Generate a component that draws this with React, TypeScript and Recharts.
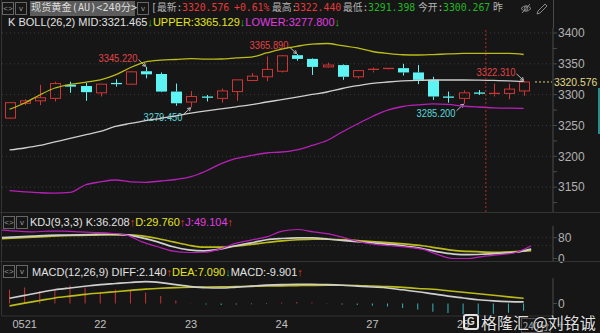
import React from "react"
import {
  ComposedChart,
  Bar,
  Line,
  XAxis,
  YAxis,
  CartesianGrid,
  ReferenceLine,
  Cell
} from "recharts"

// 240-minute candles, spot gold
const opens = [3262, 3286, 3290, 3294, 3316, 3314, 3303, 3318, 3317, 3338, 3333.5, 3305, 3288, 3296, 3294, 3305, 3323, 3329, 3338, 3364, 3358, 3345, 3348, 3329, 3339, 3341, 3343, 3336, 3324, 3296, 3294, 3302.5, 3300.267, 3302, 3306]
const highs = [3288, 3292.5, 3316, 3321, 3321, 3319, 3317.5, 3325, 3338, 3345.22, 3336, 3318, 3306, 3299.5, 3310, 3324.5, 3335, 3362, 3364.5, 3365.89, 3359, 3352, 3349, 3339.5, 3344, 3343, 3350, 3348, 3329, 3305, 3307, 3307.5, 3318, 3318, 3322.31]
const lows = [3261, 3283, 3283, 3289, 3303, 3290, 3297, 3313, 3316, 3326.5, 3304, 3282, 3279.45, 3289, 3287, 3290, 3322, 3322, 3336, 3355, 3332, 3344, 3324, 3326, 3336, 3340.5, 3331, 3317, 3291.4, 3287, 3285.2, 3299.5, 3297, 3292.5, 3298]
const closes = [3287, 3290, 3295, 3318, 3313, 3304, 3317, 3317, 3337, 3333, 3305, 3286, 3297, 3295.5, 3306, 3324, 3330, 3341, 3363, 3358, 3345, 3348, 3329, 3339, 3341, 3342.5, 3336, 3324, 3297, 3295.5, 3303, 3302, 3302, 3309, 3320.576]

// BOLL(26,2)
const upperBand = [3276.3, 3286.5, 3299.5, 3310.8, 3316.5, 3320, 3323.8, 3332, 3344, 3353, 3355.9, 3357, 3358.3, 3357.5, 3357.8, 3359.5, 3361, 3367.6, 3374, 3378.4, 3382, 3383, 3379.4, 3375.7, 3370, 3366.8, 3364.7, 3364.3, 3365, 3366, 3366.8, 3367, 3367, 3366.8, 3365.129]
const midBand = [3210.3, 3213.5, 3217.6, 3223.3, 3229, 3234.6, 3240.3, 3248.5, 3253.3, 3257.8, 3261.7, 3265.7, 3270, 3273.8, 3277, 3280.3, 3283.7, 3288.1, 3291.8, 3295.9, 3300.3, 3304.3, 3310, 3314.5, 3318.4, 3320.5, 3322.2, 3323.3, 3323.8, 3323.8, 3323.8, 3323.5, 3323, 3322.5, 3321.465]
const lowerBand = [3144.3, 3142.5, 3141, 3140.2, 3141.5, 3153.5, 3158.4, 3161.6, 3158.7, 3157.9, 3160, 3162.4, 3167, 3176.2, 3188.2, 3196.5, 3201.4, 3205.4, 3207, 3210.6, 3217.6, 3225.7, 3239.5, 3252.4, 3264.6, 3275.1, 3280.8, 3283.3, 3285, 3284.1, 3281.6, 3280, 3278.7, 3278, 3277.8]

// KDJ(9,3,3)
const kVals = [80, 83, 86, 89, 90, 91, 92.5, 94, 91, 79.5, 64, 45, 33, 29.5, 36, 49, 60, 72, 77, 79.5, 79.5, 74, 69, 64, 59, 54, 47, 38.5, 25.6, 17, 15, 17, 20, 24, 36.208]
const dVals = [76, 79, 82, 85, 87.5, 89, 90, 91, 91, 87, 77, 64, 51, 43.6, 43.6, 47, 54, 61.5, 68, 72, 74, 74, 72, 68, 64, 60, 55, 49, 40, 31, 27, 24.5, 23.5, 26.5, 29.76]
const jVals = [109, 105, 102.5, 105, 105, 102.5, 100, 97, 90, 64, 45, 28, 23, 24, 36, 58, 70.5, 83, 105, 111.5, 102.5, 95, 79.5, 64, 54, 49, 43.6, 36, 15, 0, 0, 9, 15, 23, 49.104]

// MACD(12,26,9)
const diffVals = [7.1, 11, 15, 18.5, 21, 23.3, 25.5, 27, 28.5, 29.6, 28.3, 25.5, 22.9, 21.3, 21, 22.2, 23.5, 24.8, 25.6, 26, 26, 25.5, 24.7, 23.5, 22.3, 21, 18.5, 16, 13, 10, 7.5, 5, 3.5, 2.5, 2.14]
const deaVals = [-3.2, 0.5, 4, 7.5, 10, 12.3, 14.2, 16, 17.8, 19.4, 20.6, 21.5, 22, 22.3, 22.6, 22.9, 23.2, 23.6, 23.9, 24.2, 24.5, 24.7, 24.7, 24.4, 23.6, 22.9, 21.8, 20.4, 19.3, 17.3, 15.3, 13.2, 11.1, 9, 7.09]
const histVals = [18.5, 21.5, 17, 20, 24.5, 21.5, 16, 19, 18, 15, 10, 4, 0.3, -1.5, -2, -1.5, -1, -0.5, 1.5, 2, 1.5, -0.3, -1.5, -2, -3, -4, -6, -8, -11, -13, -14.5, -15, -14, -12.5, -9.901]

const priceTicks = [3125, 3150, 3175, 3200, 3225, 3250, 3275, 3300, 3325, 3350, 3375, 3400]
const gridPrices = [3150, 3200, 3250, 3300, 3350, 3400]
const kdjTicks = [0, 80]
const kdjGrid = [50, 80]
const macdTicks = [0]
const dateTickIdx = [1, 6, 12, 18, 24, 30]
const dateLabels = ["0521", "22", "23", "24", "27", "28"]
const markIdx = [9, 12, 19, 30, 34]
const markSide = ["high", "low", "high", "low", "high"]
const lastPrice = 3320.576
const todayIdx = 32

const BG = "#161616"
const RED = "#cf3535"
const CYAN = "#5ef4f4"
const WHITE = "#cfcfcf"
const YEL = "#bcbc18"
const MAG = "#b820b8"
const AXIS = "#4a4a4a"
const TICK = "#b0b0b0"
const SANS = '"Liberation Sans", Arial, sans-serif'
const MONO = '"DejaVu Sans Mono", "Noto Sans CJK SC", monospace'
const CJK = '"Noto Sans CJK SC", sans-serif'
const PAD_R = 21.8

const candles = opens.map((o, i) => ({
  idx: i,
  open: o,
  high: highs[i],
  low: lows[i],
  close: closes[i],
  range: [lows[i], highs[i]],
  upper: upperBand[i],
  mid: midBand[i],
  lower: lowerBand[i]
}))
const kdj = kVals.map((k, i) => ({ idx: i, k, d: dVals[i], j: jVals[i] }))
const macd = diffVals.map((v, i) => ({ idx: i, diff: v, dea: deaVals[i], hist: histVals[i] }))

function Arrow({ x1, y1, x2, y2 }: { x1: number, y1: number, x2: number, y2: number }) {
  const a = Math.atan2(y2 - y1, x2 - x1)
  const s = 3.5
  const p1 = `${x2 - s * Math.cos(a - 0.55)},${y2 - s * Math.sin(a - 0.55)}`
  const p2 = `${x2 - s * Math.cos(a + 0.55)},${y2 - s * Math.sin(a + 0.55)}`
  return (
    <g stroke="#bdbdbd" strokeWidth={1} fill="none">
      <line x1={x1} y1={y1} x2={x2} y2={y2} />
      <polyline points={`${p1} ${x2},${y2} ${p2}`} />
    </g>
  )
}

function Candle(props: any) {
  const { x, y, width, height, payload } = props
  if (!payload) return null
  const { open, close, high, low, idx } = payload
  const cx = Math.round(x + width / 2) + 0.5
  const span = high - low || 1
  const py = (p: number) => y + ((high - p) / span) * height
  const up = close >= open
  const color = up ? RED : CYAN
  const top = py(Math.max(open, close))
  const bot = py(Math.min(open, close))
  const bodyH = bot - top
  const yLow = y + height
  const mi = markIdx.indexOf(idx)
  let body
  if (bodyH < 1.5) {
    body = <line x1={cx - 5.5} x2={cx + 5.5} y1={top} y2={top} stroke={color} strokeWidth={1.3} />
  } else if (up) {
    body = <rect x={cx - 5} y={top} width={10} height={bodyH} fill="none" stroke={color} strokeWidth={1} />
  } else {
    body = <rect x={cx - 5.5} y={top} width={11} height={bodyH} fill={color} />
  }
  return (
    <g>
      <line x1={cx} x2={cx} y1={y} y2={top} stroke={color} />
      <line x1={cx} x2={cx} y1={bot} y2={yLow} stroke={color} />
      {body}
      {mi >= 0 && markSide[mi] === "high" && (
        <g>
          <text x={cx - 9} y={y - 5} textAnchor="end" fill="#e04444" fontSize={11} fontFamily={SANS}
            textLength={39} lengthAdjust="spacingAndGlyphs">{high.toFixed(3)}</text>
          <Arrow x1={cx - 8} y1={y - 7} x2={cx - 1} y2={y - 0.5} />
        </g>
      )}
      {mi >= 0 && markSide[mi] === "low" && (
        <g>
          <text x={cx - 9} y={yLow + 13.5} textAnchor="end" fill="#5ad8dc" fontSize={11} fontFamily={SANS}
            textLength={39} lengthAdjust="spacingAndGlyphs">{low.toFixed(3)}</text>
          <Arrow x1={cx - 8} y1={yLow + 7} x2={cx - 1} y2={yLow + 0.5} />
        </g>
      )}
    </g>
  )
}

function PriceTag(props: any) {
  const { x1, x2, y1 } = props
  const xr = Math.max(x1, x2)
  return (
    <g>
      <line x1={xr - 18} x2={xr - 1} y1={y1} y2={y1} stroke="#d8cf7a" strokeDasharray="2 2" />
      <text x={xr + 1} y={y1 + 4} fill="#e2d98c" fontSize={10.4} fontFamily={SANS}>{lastPrice.toFixed(3)}</text>
    </g>
  )
}

const IconBox = ({ x, y, label }: { x: number, y: number, label: string }) => (
  <div style={{
    position: "absolute", left: x, top: y, width: 10, height: 11, border: "1px solid #666",
    color: "#999", fontSize: 8, lineHeight: "11px", textAlign: "center", fontFamily: SANS
  }}>{label}</div>
)

const T = ({ x, y, c, f = MONO, s = 9.8, children }: any) => (
  <span style={{ position: "absolute", left: x, top: y, color: c, fontFamily: f, fontSize: s, lineHeight: "14px", whiteSpace: "pre" }}>{children}</span>
)

const axisTick = { fill: TICK, fontSize: 12, fontFamily: SANS }

export default function App() {
  const G = "#b4b4b4"
  const HR = "#e63a3a"
  const HG = "#22b822"
  return (
    <div style={{ position: "fixed", left: 0, top: 0, width: 600, height: 333, background: BG, overflow: "hidden" }}>
      {/* main: BOLL + candles */}
      <div style={{ position: "absolute", left: 0, top: 20 }}>
        <ComposedChart width={600} height={192} data={candles} margin={{ top: 8, right: 0, bottom: 0, left: 2 }}>
          <CartesianGrid vertical={false} horizontalValues={gridPrices} stroke="#3a3a3a" strokeDasharray="1 3" />
          <XAxis dataKey="idx" hide padding={{ left: 0, right: PAD_R }} />
          <YAxis orientation="right" width={47} domain={[3109.7, 3408.1]} ticks={priceTicks} interval={0}
            tickFormatter={(v: number) => (v % 50 === 0 ? String(v) : "")}
            axisLine={{ stroke: AXIS }} tickLine={{ stroke: AXIS }} tickSize={4} tickMargin={1} tick={axisTick} />
          <Bar dataKey="range" barSize={10} shape={Candle} isAnimationActive={false} />
          <Line type="monotone" dataKey="upper" stroke={YEL} strokeWidth={1.3} dot={false} activeDot={false} isAnimationActive={false} />
          <Line type="monotone" dataKey="mid" stroke={WHITE} strokeWidth={1.3} dot={false} activeDot={false} isAnimationActive={false} />
          <Line type="monotone" dataKey="lower" stroke={MAG} strokeWidth={1.3} dot={false} activeDot={false} isAnimationActive={false} />
          <ReferenceLine x={todayIdx} position="start" stroke="#b42a2a" strokeDasharray="2 2" />
          <ReferenceLine y={lastPrice} shape={PriceTag} ifOverflow="visible" />
        </ComposedChart>
      </div>

      {/* KDJ */}
      <div style={{ position: "absolute", left: 0, top: 213 }}>
        <ComposedChart width={600} height={52} data={kdj} margin={{ top: 13, right: 0, bottom: 3, left: 2 }}>
          <CartesianGrid vertical={false} horizontalValues={kdjGrid} stroke="#363636" strokeDasharray="1 3" />
          <XAxis dataKey="idx" hide padding={{ left: 0, right: PAD_R }} />
          <YAxis orientation="right" width={47} domain={[-13.5, 125]} ticks={kdjTicks} interval={0}
            axisLine={{ stroke: AXIS }} tickLine={{ stroke: AXIS }} tickSize={4} tickMargin={1} tick={axisTick} />
          <Line type="monotone" dataKey="d" stroke={YEL} strokeWidth={1.7} dot={false} activeDot={false} isAnimationActive={false} />
          <Line type="monotone" dataKey="k" stroke={WHITE} strokeWidth={1.7} dot={false} activeDot={false} isAnimationActive={false} />
          <Line type="monotone" dataKey="j" stroke={MAG} strokeWidth={1.2} dot={false} activeDot={false} isAnimationActive={false} />
        </ComposedChart>
      </div>

      {/* MACD */}
      <div style={{ position: "absolute", left: 0, top: 262 }}>
        <ComposedChart width={600} height={71} data={macd} margin={{ top: 16, right: 0, bottom: 0, left: 2 }}>
          <XAxis dataKey="idx" height={17} padding={{ left: 0, right: PAD_R }} ticks={dateTickIdx} interval={0}
            tickFormatter={(v: number) => dateLabels[dateTickIdx.indexOf(v)] ?? ""}
            axisLine={{ stroke: "#333" }} tickLine={false} tickSize={2} tickMargin={2}
            tick={{ fill: "#c0c0c0", fontSize: 11, fontFamily: SANS }} />
          <YAxis orientation="right" width={47} domain={[-16.9, 34.5]} ticks={macdTicks} interval={0}
            axisLine={{ stroke: AXIS }} tickLine={{ stroke: AXIS }} tickSize={4} tickMargin={1} tick={axisTick} />
          <Bar dataKey="hist" barSize={1} isAnimationActive={false}>
            {macd.map((m) => (
              <Cell key={m.idx} fill={m.hist >= 0 ? "#c83434" : "#35b4b8"} />
            ))}
          </Bar>
          <Line type="monotone" dataKey="dea" stroke={YEL} strokeWidth={1.6} dot={false} activeDot={false} isAnimationActive={false} />
          <Line type="monotone" dataKey="diff" stroke={WHITE} strokeWidth={1.6} dot={false} activeDot={false} isAnimationActive={false} />
        </ComposedChart>
      </div>

      {/* frame lines */}
      <div style={{ position: "absolute", left: 1, top: 0, width: 1, height: 316, background: "#333" }} />
      <div style={{ position: "absolute", left: 553, top: 0, width: 1, height: 28, background: AXIS }} />
      <div style={{ position: "absolute", left: 0, top: 212, width: 600, height: 1, background: "#333" }} />
      <div style={{ position: "absolute", left: 0, top: 261, width: 600, height: 1, background: "#333" }} />
      <div style={{ position: "absolute", left: 598, top: 88, width: 2, height: 46, background: "#2a8c8c" }} />

      {/* header line 1 */}
      <IconBox x={2} y={2} label="<>" />
      <IconBox x={15} y={2} label="v" />
      <div style={{ position: "absolute", left: 30, top: 1, width: 105, height: 15, background: "#5c5c5c" }} />
      <T x={31} y={1} c="#dcdcdc" s={10.2}>现货黄金(AU)&lt;240分&gt;</T>
      <IconBox x={137} y={2} label="v" />
      <T x={151} y={1} c={G}>[最新:</T>
      <T x={182} y={1} c={HR}>3320.576</T>
      <T x={234} y={1} c={HR}>+0.61%</T>
      <T x={272} y={1} c={G}>最高:</T>
      <T x={294} y={1} c={HR}>3322.440</T>
      <T x={343} y={1} c={G}>最低:</T>
      <T x={368} y={1} c={HG}>3291.398</T>
      <T x={418} y={1} c={G}>今开:</T>
      <T x={443} y={1} c={HG}>3300.267</T>
      <T x={493} y={1} c={G}>昨</T>
      <svg style={{ position: "absolute", left: 520, top: 2 }} width={30} height={13}>
        <path d="M1 6.5 Q6 1 11 6.5 Q6 12 1 6.5 Z" fill="none" stroke="#8a8a8a" />
        <circle cx={6} cy={6.5} r={1.8} fill="none" stroke="#8a8a8a" />
        <line x1={2} y1={11} x2={10} y2={2} stroke="#8a8a8a" />
        <path d="M17 12 L18 9 L25 2 L27 4 L20 11 Z" fill="none" stroke="#8a8a8a" />
      </svg>

      {/* header line 2: BOLL legend */}
      <div style={{ position: "absolute", left: 8, top: 15, fontFamily: SANS, fontSize: 11, lineHeight: "14px", whiteSpace: "pre" }}>
        <span style={{ color: "#e2e2e2" }}>K BOLL(26,2) MID:3321.465</span>
        <span style={{ color: HG }}>↓</span>
        <span style={{ color: "#e4e41e" }}>UPPER:3365.129</span>
        <span style={{ color: HG }}>↓</span>
        <span style={{ color: "#e03ce0" }}>LOWER:3277.800</span>
        <span style={{ color: HG }}>↓</span>
      </div>

      {/* KDJ legend */}
      <IconBox x={3} y={216} label="<>" />
      <IconBox x={16} y={216} label="v" />
      <div style={{ position: "absolute", left: 30, top: 215, fontFamily: SANS, fontSize: 11, lineHeight: "14px", whiteSpace: "pre" }}>
        <span style={{ color: "#e2e2e2" }}>KDJ(9,3,3) K:36.208</span>
        <span style={{ color: HR }}>↑</span>
        <span style={{ color: "#e4e41e" }}>D:29.760</span>
        <span style={{ color: HR }}>↑</span>
        <span style={{ color: "#e03ce0" }}>J:49.104</span>
        <span style={{ color: HR }}>↑</span>
      </div>

      {/* MACD legend */}
      <IconBox x={3} y={265} label="<>" />
      <IconBox x={16} y={265} label="v" />
      <div style={{ position: "absolute", left: 32, top: 265, fontFamily: SANS, fontSize: 11, lineHeight: "14px", whiteSpace: "pre" }}>
        <span style={{ color: "#e2e2e2" }}>MACD(12,26,9) DIFF:2.140</span>
        <span style={{ color: HR }}>↑</span>
        <span style={{ color: "#e4e41e" }}>DEA:7.090</span>
        <span style={{ color: HG }}>↓</span>
        <span style={{ color: "#e2e2e2" }}>MACD:-9.901</span>
        <span style={{ color: HR }}>↑</span>
      </div>

      {/* bottom right controls */}
      <div style={{ position: "absolute", left: 521, top: 318, width: 28, height: 13, border: "1px solid #555", color: "#aaa", fontFamily: CJK, fontSize: 10, lineHeight: "13px", textAlign: "center" }}>240分</div>
      <div style={{ position: "absolute", left: 557, top: 318, color: "#888", fontFamily: SANS, fontSize: 13, lineHeight: "13px" }}>+</div>
      <div style={{ position: "absolute", left: 582, top: 318, color: "#888", fontFamily: SANS, fontSize: 13, lineHeight: "13px" }}>-</div>

      {/* watermark */}
      <div style={{ position: "absolute", left: 463, top: 312, display: "flex", alignItems: "center", color: "rgba(255,255,255,0.88)", fontFamily: CJK, fontSize: 16, lineHeight: "20px", whiteSpace: "pre", textShadow: "0 0 2px #000" }}>
        <span style={{ display: "inline-block", width: 12, height: 12, border: "2px solid rgba(255,255,255,0.88)", borderRadius: 3, fontFamily: SANS, fontSize: 10, fontWeight: 700, lineHeight: "12px", textAlign: "center", marginRight: 2 }}>G</span>
        <span>格隆汇 @刘铭诚</span>
      </div>
    </div>
  )
}
